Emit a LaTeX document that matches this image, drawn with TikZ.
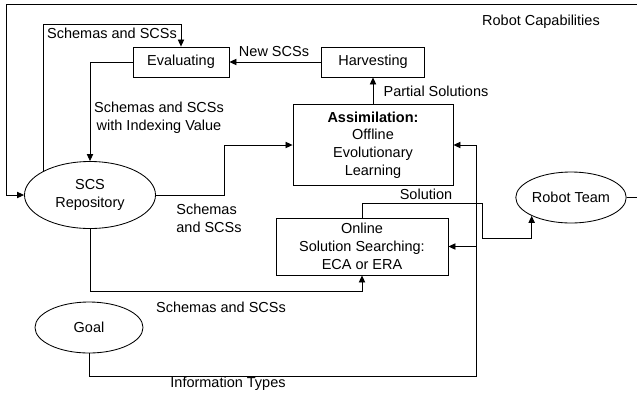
\documentclass[tikz,border=0pt]{standalone}
\usepackage{fontspec}
\setmainfont{Liberation Sans}
\usepackage{tikz}
\usetikzlibrary{arrows.meta, positioning, shapes.geometric, calc}

\begin{document}
\begin{tikzpicture}[
  x=0.025cm, y=-0.025cm,
  every node/.style={font=\fontsize{10.3}{12.6}\selectfont},
  procbox/.style={draw, line width=0.6pt, align=center, inner sep=1pt},
  store/.style={draw, ellipse, line width=0.6pt, align=center, inner sep=0pt, minimum width=2.7cm, minimum height=1.275cm},
  arrow/.style={-{Triangle[length=5pt, width=4.5pt]}, line width=0.6pt},
  flow/.style={inner sep=0pt}
]
\useasboundingbox (0,0) rectangle (637,396);

% Stores
\node[store, minimum width=3.275cm, minimum height=1.675cm] (scs) at (90,195) {SCS\\Repository};
\node[store] (goal) at (89,327.5) {Goal};
\node[store] (rteam) at (571,197.5) {Robot Team};

% Processes
\node[procbox, minimum width=2.4cm, minimum height=0.75cm] (eval) at (181,62) {Evaluating};
\node[procbox, minimum width=2.575cm, minimum height=0.75cm] (harv) at (373,62) {Harvesting};
\node[procbox, minimum width=4cm, minimum height=2.025cm] (assim) at (373,145) {\textbf{Assimilation:}\\Offline\\Evolutionary\\Learning};
\node[procbox, minimum width=4.3cm, minimum height=1.425cm] (online) at (362,246.5) {Online\\Solution Searching:\\ECA or ERA};

% Bends
\coordinate (topA) at (181,24);
\coordinate (bendA) at (224,145);
\coordinate (bendB) at (362,291);
\coordinate (bendC) at (476,376);
\coordinate (tap) at (bendC |- online.east);
\coordinate (bendD) at (482,203);
\coordinate (bendE) at (482,238);
\coordinate (cornerR) at (639,4);
\coordinate (cornerL) at (6,4);

% Evaluation loop
\draw[arrow] (scs.north west) |- (topA) -- (eval.north);
\draw[arrow] (eval.west) -| (scs.north);
\draw[arrow] (harv.west) -- (eval.east);
\draw[arrow] (assim.north) -- (harv.south);

% Inputs to the learners
\draw[arrow] (scs.east) -| (bendA) -- (assim.west);
\draw[arrow] (scs.south) |- (bendB) -- (online.south);
\draw[arrow] (goal.south) |- (bendC) |- (assim.east);
\draw[arrow] (tap) -- (online.east);

% Solution and capabilities
\draw[arrow] (online.north) |- (bendD) -- (bendE) -| (rteam.south west);
\draw[arrow] (rteam.east) -| (cornerR) -- (cornerL) |- (scs.west);

% Labels
\node[flow] (lcap) at (541,22) {Robot Capabilities};
\node[flow] (ltop) at (112,33) {Schemas and SCSs};
\node[flow] (lnew) at (274,52) {New SCSs};
\node[flow, align=center] (lidx) at (159,118) {Schemas and SCSs\\with Indexing Value};
\node[flow] (lpart) at (436,91) {Partial Solutions};
\node[flow, align=left] (lmid) at (209,218) {Schemas\\and SCSs};
\node[flow] (lsol) at (426,194) {Solution};
\node[flow] (llow) at (221,307) {Schemas and SCSs};
\node[flow] (linfo) at (228,384) {Information Types};

\end{tikzpicture}
\end{document}
